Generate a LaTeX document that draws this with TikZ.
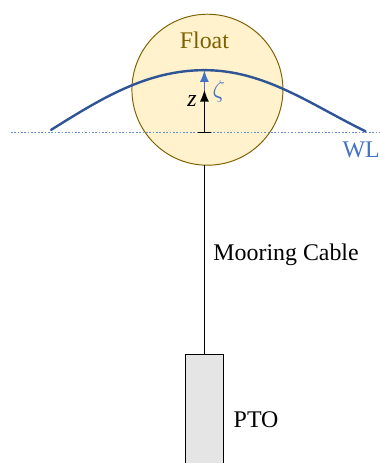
\documentclass[tikz,border=0pt]{standalone}
\usepackage{fontspec}
\setmainfont{Liberation Serif}
\definecolor{floatline}{HTML}{7F6000}
\definecolor{floatfill}{HTML}{FFF2CC}
\definecolor{waterblue}{HTML}{4472C4}
\definecolor{waveblue}{HTML}{2F5597}
\tikzset{
  wavearrow/.style={line width=0.7pt,-latex},
  label/.style={inner sep=0pt,font=\fontsize{9.9}{12}\selectfont}
}

\begin{document}
\begin{tikzpicture}
\useasboundingbox (-2.978,-4.818) rectangle (2.555,1.927);
  \node[circle,draw=floatline,fill=floatfill,line width=0.4pt,minimum size=2.2cm,inner sep=0pt] (float) at (0.044,0.62) {};
  \node[label,text=floatline] (floatlabel) at (0,1.345) {Float};
  \coordinate (WLl) at (-2.82,0);
  \coordinate (WLr) at (2.555,0);
  \draw[waterblue!80,dotted,line width=0.5pt,dash pattern=on 0.7pt off 0.7pt] (WLl) -- (WLr);
  \node[label,text=waterblue,anchor=east] (WL) at (2.56,-0.25) {WL};
  % free surface
  \coordinate (waveL) at (-2.234,0.035);
  \coordinate (crest) at (0,0.905);
  \coordinate (waveR) at (2.345,0.015);
  \draw[waveblue,line width=1pt,line cap=round] (waveL) to[out=32,in=180,looseness=0.9] (crest) to[out=0,in=154,looseness=0.9] (waveR);
  % elevation arrows
  \coordinate (base) at (0,0);
  \coordinate (ztip) at (0,0.62);
  \draw[waterblue,wavearrow] (ztip) -- (crest);
  \draw[black,wavearrow] (base) -- (ztip);
  \draw[black,line width=0.5pt] (-0.09,0) -- (0.09,0);
  \node[label] (z) at (-0.18,0.46) {\textit{z}};
  \node[label,text=waterblue] (zeta) at (0.21,0.6) {$\zeta$};
  % cable and PTO
  \node[draw,fill=black!10,line width=0.4pt,minimum width=0.555cm,minimum height=3cm,anchor=north,inner sep=0pt] (pto) at (0,-3.23) {};
  \coordinate (cabletop) at (0,-0.48);
  \draw[line width=0.4pt] (cabletop) -- (pto.north);
  \node[label,anchor=west] (cable) at (0.125,-1.78) {Mooring Cable};
  \node[label,anchor=west] (ptolabel) at (0.42,-4.18) {PTO};
\end{tikzpicture}
\end{document}
